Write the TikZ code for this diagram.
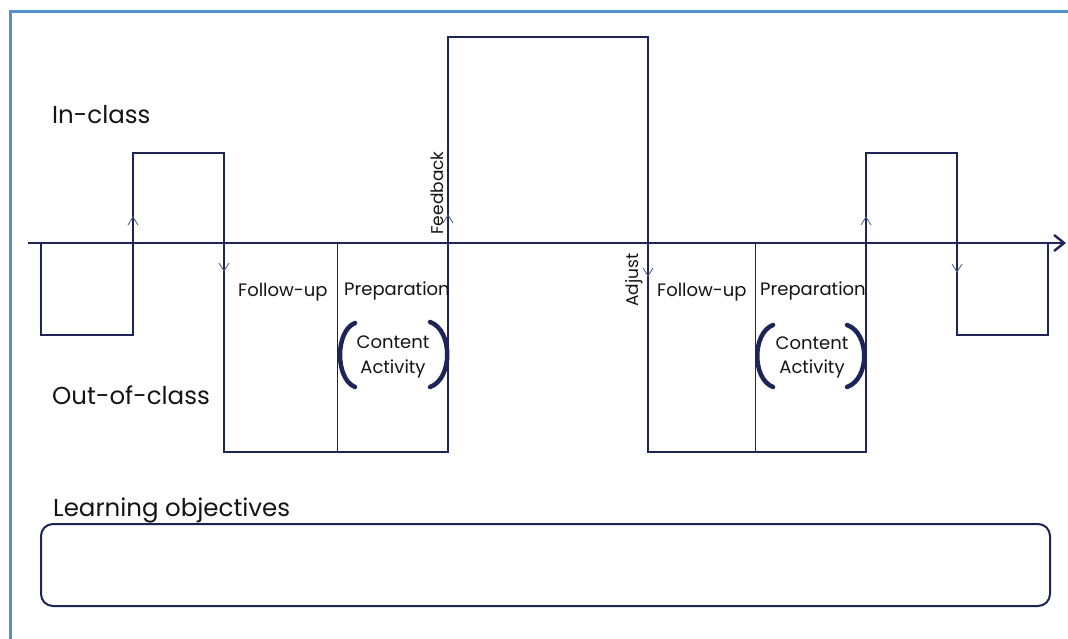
\documentclass[tikz,border=0pt]{standalone}
\usepackage{fontspec}
\setmainfont{Poppins}
\usetikzlibrary{arrows.meta}
\definecolor{navy}{RGB}{28,36,88}
\definecolor{chevcol}{RGB}{80,88,130}
\definecolor{framecol}{RGB}{85,142,213}
\definecolor{txt}{RGB}{20,20,20}
\tikzset{
  wave/.style={draw=navy, line width=1.8pt, line join=miter},
  divider/.style={draw=navy, line width=0.9pt},
  axisline/.style={draw=navy, line width=2.6pt, -{Straight Barb[length=10pt,width=16pt,line width=2.4pt]}},
  chev/.style={draw=chevcol, line width=0.8pt},
  bracketline/.style={draw=navy, line width=4.5pt, line cap=round},
  bigtxt/.style={inner sep=0pt, text=txt, font=\fontsize{24.5}{28}\selectfont},
  smalltxt/.style={inner sep=0pt, text=txt, font=\fontsize{18}{22}\selectfont},
  sidetxt/.style={inner sep=0pt, text=txt, rotate=90, font=\fontsize{17}{20}\selectfont},
  objbox/.style={draw=navy, line width=2pt, rounded corners=12pt, inner sep=0pt},
  framestyle/.style={draw=framecol, line width=3pt}
}
\begin{document}
\begin{tikzpicture}[x=1pt,y=-1pt]
\useasboundingbox (0,0) rectangle (1068,639);
% frame
\draw[framestyle] (10,641) -- (10,12) -- (1070,12);
% wave coordinates
\coordinate (p0) at (41,243);
\coordinate (p1) at (41,335);
\coordinate (p2) at (133,335);
\coordinate (p3) at (133,153);
\coordinate (p4) at (224,153);
\coordinate (p5) at (224,452);
\coordinate (p6) at (448,452);
\coordinate (p7) at (448,37);
\coordinate (p8) at (648,37);
\coordinate (p9) at (648,452);
\coordinate (p10) at (866,452);
\coordinate (p11) at (866,153);
\coordinate (p12) at (957,153);
\coordinate (p13) at (957,335);
\coordinate (p14) at (1048,335);
\coordinate (p15) at (1048,243);
\draw[wave] (p0) -- (p1) -- (p2) -- (p3) -- (p4) -- (p5) -- (p6) -- (p7) -- (p8) -- (p9) -- (p10) -- (p11) -- (p12) -- (p13) -- (p14) -- (p15);
% dividers
\coordinate (d1t) at (337,243);
\coordinate (d1b) at (337,452);
\coordinate (d2t) at (755,243);
\coordinate (d2b) at (755,452);
\draw[divider] (d1t) -- (d1b);
\draw[divider] (d2t) -- (d2b);
% axis
\coordinate (ax0) at (28,243);
\coordinate (ax1) at (1066,243);
\draw[axisline] (ax0) -- (ax1);
% small chevrons
\coordinate (u1) at (133,217);
\coordinate (dn1) at (224,271);
\coordinate (fb) at (448,215);
\coordinate (adj) at (648,276);
\coordinate (u2) at (866,217);
\coordinate (dn2) at (957,272);
\foreach \c in {u1,fb,u2}{
  \draw[chev] ([shift={(-5,8)}]\c) -- (\c) -- ([shift={(5,8)}]\c);
}
\foreach \c in {dn1,adj,dn2}{
  \draw[chev] ([shift={(-5,-8)}]\c) -- (\c) -- ([shift={(5,-8)}]\c);
}
% brackets
\coordinate (b1t) at (355,323); \coordinate (b1b) at (355,387);
\coordinate (b2t) at (430,322); \coordinate (b2b) at (430,387);
\coordinate (b3t) at (773,325); \coordinate (b3b) at (773,387);
\coordinate (b4t) at (847,325); \coordinate (b4b) at (847,387);
\draw[bracketline] (b1t) .. controls (335,331) and (335,379) .. (b1b);
\draw[bracketline] (b2t) .. controls (453,330) and (453,379) .. (b2b);
\draw[bracketline] (b3t) .. controls (752,333) and (752,379) .. (b3b);
\draw[bracketline] (b4t) .. controls (870,333) and (870,379) .. (b4b);
% labels
\node[bigtxt, anchor=base west] (inclass) at (52,124) {In-class};
\node[bigtxt, anchor=base west] (outclass) at (52,404) {Out-of-class};
\node[bigtxt, anchor=base west] (learn) at (53,516) {Learning objectives};
\node[smalltxt, anchor=base west] (fu1) at (238,296) {Follow-up};
\node[smalltxt, anchor=base west] (prep1) at (344,295) {Preparation};
\node[smalltxt] (cont1) at (393,342) {Content};
\node[smalltxt] (act1) at (393,369) {Activity};
\node[smalltxt, anchor=base west] (fu2) at (657,296) {Follow-up};
\node[smalltxt, anchor=base west] (prep2) at (760,295) {Preparation};
\node[smalltxt] (cont2) at (812,343) {Content};
\node[smalltxt] (act2) at (812,369) {Activity};
\node[sidetxt] (feedback) at (437,193) {Feedback};
\node[sidetxt] (adjust) at (634,280) {Adjust};
% objectives box
\node[objbox, minimum width=1009pt, minimum height=82pt] (obj) at (545.5,565) {};
\end{tikzpicture}
\end{document}
